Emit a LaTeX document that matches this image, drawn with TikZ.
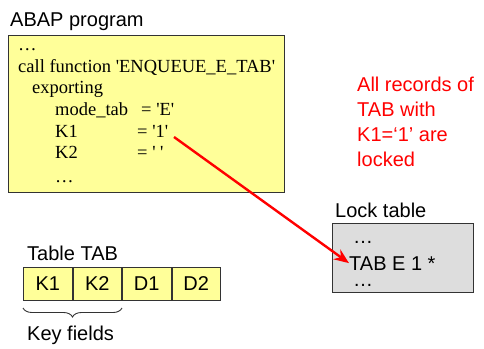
\documentclass[tikz,border=0pt]{standalone}
\usepackage{fontspec}
\setmainfont{Liberation Sans}
\newfontfamily\codefont{Liberation Serif}
\usetikzlibrary{decorations.pathreplacing,arrows.meta}
\definecolor{codeyellow}{HTML}{FFFF99}
\definecolor{lockgray}{HTML}{DDDDDD}
\definecolor{edgegray}{HTML}{333333}
\begin{document}
\begin{tikzpicture}[x=1pt,y=-1pt,
  boxstyle/.style={draw=edgegray, line width=1.3pt, inner sep=0pt, anchor=north west},
  code/.style={anchor=base west, inner sep=0pt, font=\codefont\fontsize{18.5}{22}\selectfont},
  label/.style={anchor=base west, inner sep=0pt, font=\fontsize{20}{24}\selectfont},
  dots/.style={label, text height=3pt, text depth=0pt},
  cell/.style={draw=edgegray, line width=1pt, fill=codeyellow, minimum width=48.5pt, minimum height=33pt, inner sep=0pt, anchor=north west, font=\fontsize{20}{24}\selectfont},
  redtext/.style={anchor=north west, inner sep=0pt, align=left, text=red, font=\fontsize{20}{25}\selectfont}]
\useasboundingbox (0,0) rectangle (484,348);
% ABAP program
\node[label] (abaplabel) at (10,27) {ABAP program};
\node[boxstyle, fill=codeyellow, minimum width=276pt, minimum height=157pt] (abap) at (8,35) {};
\node[code] (c1) at (18,50) {…};
\node[code] (c2) at (18,72) {call function 'ENQUEUE\_E\_TAB'};
\node[code] (c3) at (32,93) {exporting};
\node[code] (c4) at (55,115) {mode\_tab};
\node[code] (c4v) at (141,115) {= 'E'};
\node[code] (c5) at (55,137) {K1};
\node[code] (c5v) at (137,137) {= '1'};
\node[code] (c6) at (55,158) {K2};
\node[code] (c6v) at (137,158) {= ' '};
\node[code] (c7) at (55,182) {…};
\coordinate (k1end) at (174,137);
% red note
\node[redtext] (note) at (357,77) {All records of\\TAB with\\K1=‘1’ are\\locked};
% Lock table
\node[label] (locklabel) at (335,217) {Lock table};
\node[boxstyle, fill=lockgray, minimum width=141pt, minimum height=69pt] (lock) at (332,223) {};
\node[dots] (l1) at (353,243) {…};
\node[label] (tabe1) at (349,270) {TAB E 1 *};
\node[dots] (l3) at (353,286) {…};
% arrow
\draw[red, line width=2.4pt, -{Stealth[length=15pt,width=12pt]}] (k1end) -- (tabe1.west);
% Table TAB
\node[label] (tablabel) at (27,260) {Table TAB};
\node[cell] (k1) at (23,267) {K1};
\node[cell, anchor=north west] (k2) at (k1.north east) {K2};
\node[cell, anchor=north west] (d1) at (k2.north east) {D1};
\node[cell, anchor=north west] (d2) at (d1.north east) {D2};
\draw[edgegray, line width=0.9pt, decorate, decoration={brace, mirror, amplitude=9pt}] ([yshift=-7pt]k1.south west) -- ([yshift=-7pt]k2.south east);
\node[label] (keyfields) at (27,340) {Key fields};
\end{tikzpicture}
\end{document}
